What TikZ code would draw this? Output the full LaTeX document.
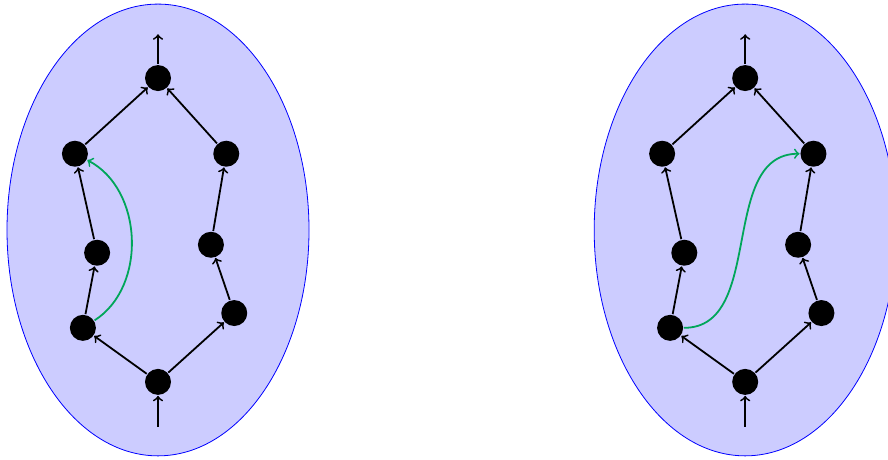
\documentclass[tikz,border=0pt]{standalone}
\usepackage{tikz}
\definecolor{pathgreen}{RGB}{0,166,90}

\begin{document}
\begin{tikzpicture}[vtx/.style={circle, fill=black, inner sep=0pt, minimum size=13pt},
    every path/.style={line width=.9pt}]
    \useasboundingbox (-2.777, -4.042) rectangle (12.83, 4.042);

    % left
    \draw [blue, fill=blue!20, line width=.4pt] (0, 0) ellipse (2.654 and 3.97);
    \node [vtx] (top1) at (0, 2.67) {};
    \node [vtx] (ul1) at (-1.46, 1.34) {};
    \node [vtx] (ur1) at (1.2, 1.34) {};
    \node [vtx] (ml1) at (-1.07, -.4) {};
    \node [vtx] (mr1) at (.93, -.26) {};
    \node [vtx] (ll1) at (-1.32, -1.72) {};
    \node [vtx] (lr1) at (1.34, -1.46) {};
    \node [vtx] (bot1) at (0, -2.67) {};
    \coordinate (in1) at (0, -3.46);
    \coordinate (out1) at (0, 3.44);

    \draw [->] (in1) to (bot1);
    \draw [->] (bot1) to (ll1);
    \draw [->] (bot1) to (lr1);
    \draw [->] (ll1) to (ml1);
    \draw [->] (ml1) to (ul1);
    \draw [->] (lr1) to (mr1);
    \draw [->] (mr1) to (ur1);
    \draw [->] (ul1) to (top1);
    \draw [->] (ur1) to (top1);
    \draw [->] (top1) to (out1);
    \draw [->, pathgreen] (ll1) to [bend right=60] (ul1);

    % right
    \begin{scope}[xshift=10.32cm]
    \draw [blue, fill=blue!20, line width=.4pt] (0, 0) ellipse (2.654 and 3.97);
    \node [vtx] (top2) at (0, 2.67) {};
    \node [vtx] (ul2) at (-1.46, 1.34) {};
    \node [vtx] (ur2) at (1.2, 1.34) {};
    \node [vtx] (ml2) at (-1.07, -.4) {};
    \node [vtx] (mr2) at (.93, -.26) {};
    \node [vtx] (ll2) at (-1.32, -1.72) {};
    \node [vtx] (lr2) at (1.34, -1.46) {};
    \node [vtx] (bot2) at (0, -2.67) {};
    \coordinate (in2) at (0, -3.46);
    \coordinate (out2) at (0, 3.44);

    \draw [->] (in2) to (bot2);
    \draw [->] (bot2) to (ll2);
    \draw [->] (bot2) to (lr2);
    \draw [->] (ll2) to (ml2);
    \draw [->] (ml2) to (ul2);
    \draw [->] (lr2) to (mr2);
    \draw [->] (mr2) to (ur2);
    \draw [->] (ul2) to (top2);
    \draw [->] (ur2) to (top2);
    \draw [->] (top2) to (out2);
    \draw [->, pathgreen] (ll2) to [out=0, in=180] (ur2);
    \end{scope}
  \end{tikzpicture}
\end{document}
